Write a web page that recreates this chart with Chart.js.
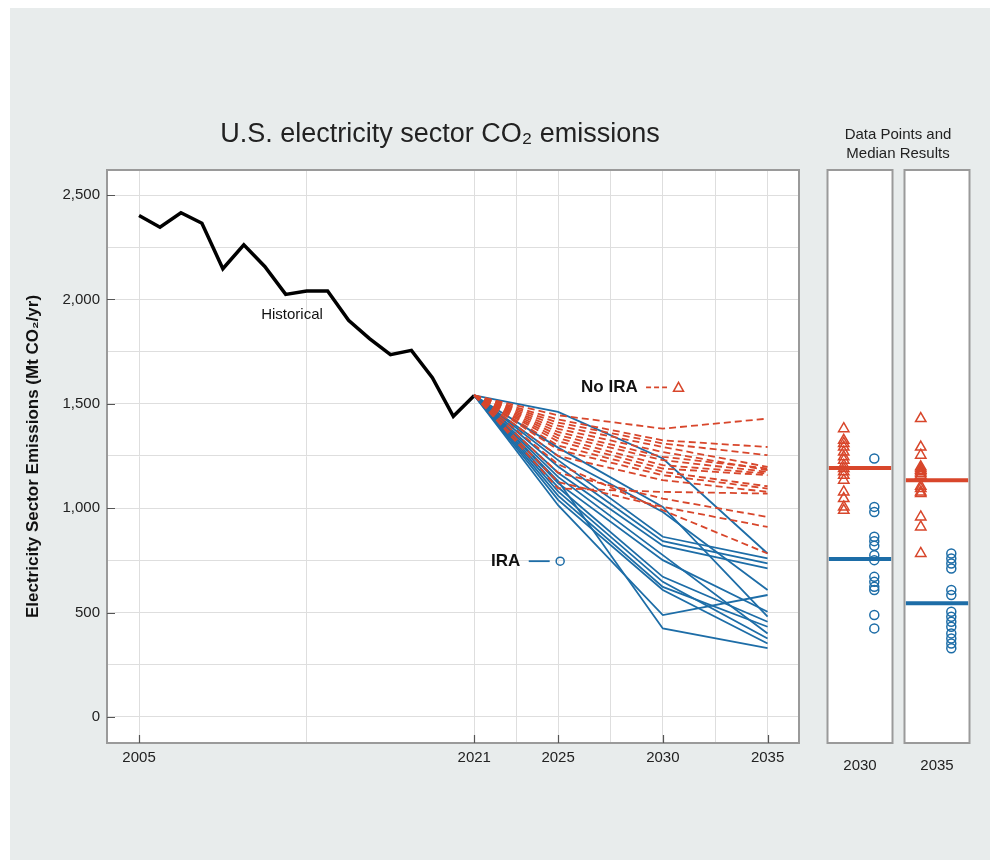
<!DOCTYPE html>
<html>
<head>
<meta charset="utf-8">
<script src="https://cdn.jsdelivr.net/npm/chart.js@4/dist/chart.umd.min.js"></script>
<style>
  body { margin: 0; background: #fff; width: 997px; height: 862px; position: relative; overflow: hidden;
         font-family: "Liberation Sans", Arial, sans-serif; }
  #bg { position: absolute; left: 10px; top: 8px; width: 980px; height: 852px; background: #e8ecec; }
  canvas { position: absolute; }
  #main { left: 0; top: 0; }
  #p2030 { left: 820px; top: 100px; }
  #p2035 { left: 897px; top: 100px; }
  #title { position: absolute; left: 0; top: 116px; width: 880px; text-align: center;
           font-size: 27px; line-height: 34px; color: #222; }
  #head { position: absolute; left: 818px; top: 124px; width: 160px; text-align: center;
          font-size: 15px; line-height: 19px; color: #222; }
</style>
</head>
<body>
<div id="bg"></div>
<canvas id="main" width="880" height="800"></canvas>
<canvas id="p2030" width="80" height="700"></canvas>
<canvas id="p2035" width="80" height="700"></canvas>
<div id="title">U.S. electricity sector CO₂ emissions</div>
<div id="head">Data Points and<br>Median Results</div>
<script>
const FONT = '"Liberation Sans", Arial, sans-serif'
const RED = "#d8462b"
const BLUE = "#1d6da7"

// historical emissions, Mt CO2/yr
const histYears = [2005, 2006, 2007, 2008, 2009, 2010, 2011, 2012, 2013, 2014, 2015, 2016, 2017, 2018, 2019, 2020, 2021]
const histValues = [2402, 2346, 2415, 2365, 2147, 2262, 2158, 2024, 2040, 2040, 1900, 1812, 1735, 1756, 1625, 1440, 1540]

// model projections (start at 2021 value)
const projYears = [2021, 2025, 2030, 2035]
const noIra2025 = [1445, 1425, 1410, 1395, 1380, 1365, 1350, 1335, 1320, 1300, 1280, 1250, 1095, 1170, 1125, 1210]
const noIra2030 = [1381, 1325, 1310, 1293, 1269, 1246, 1230, 1206, 1190, 1174, 1158, 1134, 1078, 1046, 1006, 990]
const noIra2035 = [1429, 1293, 1254, 1198, 1182, 1190, 1174, 1166, 1158, 1105, 1094, 1078, 1070, 958, 910, 783]
const ira2025 = [1461, 1290, 1250, 1230, 1200, 1170, 1150, 1120, 1100, 1080, 1060, 1040, 1014, 1130]
const ira2030 = [1238, 1006, 982, 863, 842, 820, 775, 751, 671, 647, 623, 608, 488, 424]
const ira2035 = [783, 480, 608, 759, 735, 711, 400, 504, 456, 376, 432, 352, 584, 329]

// medians shown in the side panels [2030, 2035]
const noIraMedian = [1193, 1134]
const iraMedian = [756, 544]

// axes
const xGridYears = [2005, 2013, 2021, 2023, 2025, 2027.5, 2030, 2032.5, 2035]
const xTickYears = [2005, 2021, 2025, 2030, 2035]
const yGridValues = [0, 250, 500, 750, 1000, 1250, 1500, 1750, 2000, 2250, 2500]
const yTickValues = [0, 500, 1000, 1500, 2000, 2500]
const yTickLabels = ["0", "500", "1,000", "1,500", "2,000", "2,500"]
const Y_MIN = -125
const Y_MAX = 2620

const frame = {
  id: "frame",
  beforeDraw(chart) {
    const { ctx, chartArea: a } = chart
    ctx.save()
    ctx.fillStyle = "#fff"
    ctx.fillRect(a.left, a.top, a.right - a.left, a.bottom - a.top)
    ctx.restore()
  },
  afterDraw(chart) {
    const { ctx, chartArea: a } = chart
    ctx.save()
    ctx.strokeStyle = "#9a9a9a"
    ctx.lineWidth = 2
    ctx.strokeRect(a.left, a.top, a.right - a.left, a.bottom - a.top)
    ctx.restore()
  },
}

const innerTicks = {
  id: "innerTicks",
  afterDraw(chart) {
    const { ctx, chartArea: a, scales } = chart
    ctx.save()
    ctx.strokeStyle = "#555"
    ctx.lineWidth = 1.2
    ctx.beginPath()
    yTickValues.forEach((v) => {
      const y = Math.round(scales.y.getPixelForValue(v)) + 0.5
      ctx.moveTo(a.left, y)
      ctx.lineTo(a.left + 8, y)
    })
    xTickYears.forEach((v) => {
      const x = Math.round(scales.x.getPixelForValue(v)) + 0.5
      ctx.moveTo(x, a.bottom)
      ctx.lineTo(x, a.bottom - 8)
    })
    ctx.stroke()
    ctx.restore()
  },
}

const labels = {
  id: "labels",
  afterDatasetsDraw(chart) {
    const { ctx, scales } = chart
    const px = (v) => scales.x.getPixelForValue(v)
    const py = (v) => scales.y.getPixelForValue(v)
    ctx.save()
    ctx.textBaseline = "middle"
    ctx.fillStyle = "#111"
    ctx.font = "15px " + FONT
    ctx.textAlign = "center"
    ctx.fillText("Historical", px(2012.3), py(1928))

    ctx.font = "bold 17px " + FONT
    ctx.textAlign = "right"
    // No IRA key
    let y = py(1579)
    ctx.fillText("No IRA", px(2028.8), y)
    ctx.strokeStyle = RED
    ctx.lineWidth = 1.8
    ctx.setLineDash([5, 3])
    ctx.beginPath()
    ctx.moveTo(px(2029.2), y)
    ctx.lineTo(px(2030.2), y)
    ctx.stroke()
    ctx.setLineDash([])
    const tx = px(2030.75)
    ctx.beginPath()
    ctx.moveTo(tx, y - 5)
    ctx.lineTo(tx + 5, y + 4)
    ctx.lineTo(tx - 5, y + 4)
    ctx.closePath()
    ctx.lineWidth = 1.5
    ctx.stroke()
    // IRA key
    y = py(746)
    ctx.fillText("IRA", px(2023.2), y)
    ctx.strokeStyle = BLUE
    ctx.lineWidth = 1.8
    ctx.beginPath()
    ctx.moveTo(px(2023.6), y)
    ctx.lineTo(px(2024.6), y)
    ctx.stroke()
    ctx.lineWidth = 1.5
    ctx.beginPath()
    ctx.arc(px(2025.1), y, 4, 0, Math.PI * 2)
    ctx.stroke()
    ctx.restore()
  },
}

const scenario = (v25, v30, v35, color, dashed) =>
  v25.map((_, i) => ({
    data: [v25[i], v30[i], v35[i]].reduce((pts, v, k) => pts.concat({ x: projYears[k + 1], y: v }), [{ x: projYears[0], y: histValues[histValues.length - 1] }]),
    borderColor: color,
    borderWidth: 1.8,
    borderDash: dashed ? [7, 4] : [],
    pointRadius: 0,
    showLine: true,
    fill: false,
  }))

const datasets = [
  ...scenario(noIra2025, noIra2030, noIra2035, RED, true),
  ...scenario(ira2025, ira2030, ira2035, BLUE, false),
  {
    data: histYears.map((x, i) => ({ x: x, y: histValues[i] })),
    borderColor: "#000",
    borderWidth: 3.5,
    borderJoinStyle: "miter",
    pointRadius: 0,
    showLine: true,
    fill: false,
  },
]

new Chart(document.getElementById("main"), {
  type: "scatter",
  data: { datasets: datasets },
  plugins: [frame, innerTicks, labels],
  options: {
    responsive: false,
    animation: false,
    layout: { padding: { left: 0, right: 81, top: 170, bottom: 0 } },
    plugins: {
      legend: { display: false },
      tooltip: { enabled: false },
    },
    scales: {
      x: {
        type: "linear",
        min: 2003.47,
        max: 2036.5,
        afterBuildTicks: (s) => { s.ticks = xGridYears.map((v) => ({ value: v })) },
        afterFit: (s) => { s.height = 57 },
        grid: { color: "#dedede", drawTicks: false },
        border: { display: false },
        ticks: {
          autoSkip: false,
          maxRotation: 0,
          padding: 6,
          color: "#222",
          font: { family: FONT, size: 15 },
          callback: (v) => (xTickYears.includes(v) ? String(v) : ""),
        },
      },
      y: {
        min: Y_MIN,
        max: Y_MAX,
        afterBuildTicks: (s) => { s.ticks = yGridValues.map((v) => ({ value: v })) },
        afterFit: (s) => { s.width = 107 },
        grid: { color: "#dedede", drawTicks: false },
        border: { display: false },
        title: {
          display: true,
          text: "Electricity Sector Emissions (Mt CO₂/yr)",
          color: "#111",
          font: { family: FONT, size: 17, weight: "bold" },
          padding: { top: 23, bottom: 0 },
        },
        ticks: {
          padding: 7,
          color: "#222",
          font: { family: FONT, size: 15 },
          callback: (v) => {
            const i = yTickValues.indexOf(v)
            return i === -1 ? "" : yTickLabels[i]
          },
        },
      },
    },
  },
})

const panel = (id, label, redVals, blueVals, redMed, blueMed) => {
  new Chart(document.getElementById(id), {
    type: "scatter",
    data: {
      datasets: [
        {
          data: redVals.map((v) => ({ x: 0.25, y: v })),
          pointStyle: "triangle",
          pointRadius: 6,
          borderColor: RED,
          backgroundColor: "rgba(0,0,0,0)",
          borderWidth: 1.5,
        },
        {
          data: blueVals.map((v) => ({ x: 0.72, y: v })),
          pointStyle: "circle",
          pointRadius: 4.5,
          borderColor: BLUE,
          backgroundColor: "rgba(0,0,0,0)",
          borderWidth: 1.5,
        },
        {
          data: [{ x: 0.02, y: redMed }, { x: 0.98, y: redMed }],
          showLine: true,
          borderColor: RED,
          borderWidth: 4,
          pointRadius: 0,
        },
        {
          data: [{ x: 0.02, y: blueMed }, { x: 0.98, y: blueMed }],
          showLine: true,
          borderColor: BLUE,
          borderWidth: 4,
          pointRadius: 0,
        },
      ],
    },
    plugins: [frame],
    options: {
      responsive: false,
      animation: false,
      layout: { padding: { left: 6, right: 5, top: 70, bottom: 0 } },
      plugins: { legend: { display: false }, tooltip: { enabled: false } },
      scales: {
        x: {
          type: "linear",
          min: 0,
          max: 1,
          afterBuildTicks: (s) => { s.ticks = [{ value: 0.5 }] },
          afterFit: (s) => { s.height = 57 },
          grid: { display: false },
          border: { display: false },
          ticks: {
            padding: 6,
            color: "#222",
            font: { family: FONT, size: 15 },
            callback: () => label,
          },
        },
        y: { display: false, min: Y_MIN, max: Y_MAX },
      },
    },
  })
}

panel("p2030", "2030", noIra2030, ira2030, noIraMedian[0], iraMedian[0])
panel("p2035", "2035", noIra2035, ira2035, noIraMedian[1], iraMedian[1])
</script>
</body>
</html>
